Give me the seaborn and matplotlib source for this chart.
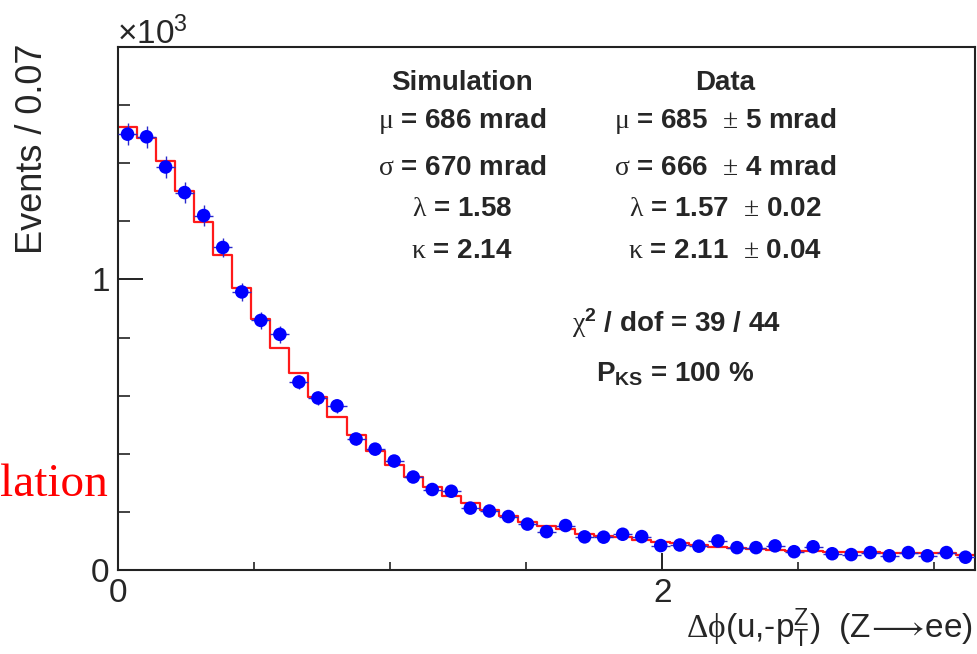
import numpy as np
import pandas as pd
import matplotlib
matplotlib.use("Agg")
import matplotlib.pyplot as plt
from matplotlib.ticker import MultipleLocator, FixedLocator
import seaborn as sns

# ---- data (in units of 10^3 events per 0.07 bin) ----
bin_width = 0.07
n_bins = 45
simulation = [1.524, 1.486, 1.409, 1.306, 1.199, 1.083, 0.972, 0.864, 0.764, 0.678,
              0.596, 0.527, 0.465, 0.408, 0.363, 0.321, 0.284, 0.255, 0.229, 0.206,
              0.186, 0.166, 0.152, 0.140, 0.124, 0.117, 0.112, 0.103, 0.096, 0.092,
              0.086, 0.080, 0.074, 0.072, 0.069, 0.066, 0.065, 0.063, 0.062, 0.061,
              0.060, 0.058, 0.057, 0.057, 0.052]
data = [1.500, 1.491, 1.387, 1.299, 1.220, 1.110, 0.957, 0.859, 0.811, 0.647,
        0.592, 0.565, 0.451, 0.416, 0.375, 0.320, 0.277, 0.271, 0.213, 0.203,
        0.184, 0.158, 0.132, 0.153, 0.114, 0.113, 0.123, 0.115, 0.084, 0.086,
        0.082, 0.100, 0.077, 0.077, 0.083, 0.063, 0.080, 0.056, 0.053, 0.060,
        0.049, 0.060, 0.049, 0.060, 0.044]
x_tick_major = [0, 2]
y_tick_major = [0, 1]
sim_stats = ["Simulation",
             r"$\mathrm{\mu}$ = 686 mrad",
             r"$\mathrm{\sigma}$ = 670 mrad",
             r"$\mathrm{\lambda}$ = 1.58",
             r"$\mathrm{\kappa}$ = 2.14"]
data_stats = ["Data",
              r"$\mathrm{\mu}$ = 685  $\mathrm{\pm}$ 5 mrad",
              r"$\mathrm{\sigma}$ = 666  $\mathrm{\pm}$ 4 mrad",
              r"$\mathrm{\lambda}$ = 1.57  $\mathrm{\pm}$ 0.02",
              r"$\mathrm{\kappa}$ = 2.11  $\mathrm{\pm}$ 0.04"]

edges = np.arange(n_bins + 1) * bin_width
centers = edges[:-1] + bin_width / 2
df = pd.DataFrame({"x": centers, "sim": simulation, "data": data})
df["err"] = np.sqrt(df["data"] * 1000.0) / 1000.0

sns.set_style("white")
plt.rcParams["font.family"] = ["Liberation Sans", "DejaVu Sans"]
plt.rcParams["mathtext.fontset"] = "custom"
plt.rcParams["mathtext.rm"] = "Liberation Serif"
plt.rcParams["mathtext.sf"] = "Liberation Sans"
plt.rcParams["mathtext.it"] = "Liberation Sans:italic"
plt.rcParams["mathtext.bf"] = "Liberation Sans:bold"

W, H = 978, 654
fig = plt.figure(figsize=(W / 100, H / 100), dpi=100)
ax = fig.add_axes([118 / W, 1 - 570 / H, (975 - 118) / W, (570 - 47) / H])

# simulation histogram (red step)
sns.histplot(data=df, x="x", weights="sim", binwidth=bin_width,
             binrange=(0, n_bins * bin_width), element="step", fill=False,
             color="#ff1a1a", linewidth=1.6, ax=ax, zorder=2)

# data points with error bars
ax.errorbar(df["x"], df["data"], yerr=df["err"], xerr=bin_width / 2, fmt="none",
            ecolor="#2a2acc", elinewidth=1.0, capsize=0, zorder=3)
sns.scatterplot(data=df, x="x", y="data", color="#0000ff", s=95, edgecolor="none",
                ax=ax, zorder=4)

ax.set_xlim(0, n_bins * bin_width)
ax.set_ylim(0, 1.8)
ax.set_xlabel("")
ax.set_ylabel("")

ax.xaxis.set_major_locator(FixedLocator(x_tick_major))
ax.xaxis.set_minor_locator(MultipleLocator(0.5))
ax.yaxis.set_major_locator(FixedLocator(y_tick_major))
ax.yaxis.set_minor_locator(MultipleLocator(0.2))
ax.tick_params(which="both", direction="in", color="#222222", labelsize=24,
               top=False, right=False, bottom=True, left=True)
ax.tick_params(axis="y", which="major", length=18, width=1.4, pad=6)
ax.tick_params(axis="y", which="minor", length=8.6, width=1.2)
ax.tick_params(axis="x", which="major", length=12, width=1.4, pad=6)
ax.tick_params(axis="x", which="minor", length=5.8, width=1.2)
for s in ax.spines.values():
    s.set_linewidth(1.5)
    s.set_color("#222222")
    s.set_visible(True)

# axis titles
fig.text(33 / W, 1 - 43 / H, "Events / 0.07", rotation=90, ha="center", va="top",
         fontsize=26)
fig.text(973 / W, 1 - 638 / H,
         r"$\mathrm{\Delta\phi}$(u,-p$_{\mathsf{T}}^{\mathsf{Z}}$)  (Z$\!\longrightarrow\!$ee)",
         ha="right", va="baseline", fontsize=24)
fig.text(117 / W, 1 - 44 / H, r"$\mathregular{\times10^{3}}$", ha="left",
         va="baseline", fontsize=24)

# statistics box text
rows_y = [90, 128, 175, 216.5, 258]
for txt, yy in zip(sim_stats, rows_y):
    fig.text(462 / W, 1 - yy / H, txt, ha="center", va="baseline", fontsize=20,
             fontweight="bold")
for txt, yy in zip(data_stats, rows_y):
    fig.text(725 / W, 1 - yy / H, txt, ha="center", va="baseline", fontsize=20,
             fontweight="bold")
fig.text(676 / W, 1 - 331.5 / H, r"$\mathrm{\chi}^{\mathbf{2}}$ / dof = 39 / 44",
         ha="center", va="baseline", fontsize=20, fontweight="bold")
fig.text(675 / W, 1 - 381.5 / H, r"P$_{\mathbf{KS}}$ = 100 %", ha="center",
         va="baseline", fontsize=20, fontweight="bold")

# cropped slide text at the left margin
fig.text(108 / W, 1 - 496 / H, "lation", ha="right", va="baseline", fontsize=34,
         color="#ff0000", family="Liberation Serif")

fig.savefig("out.png", dpi=100)
